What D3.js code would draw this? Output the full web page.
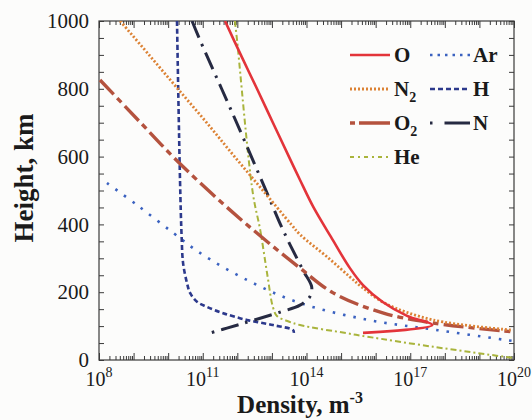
<!DOCTYPE html>
<html><head><meta charset="utf-8">
<script src="https://cdn.jsdelivr.net/npm/d3@7"></script>
<style>
html,body{margin:0;padding:0;background:#fcfcfb;}
svg{display:block;font-family:"Liberation Serif","Times New Roman",serif;}
</style>
</head><body>
<svg id="chart" width="532" height="420"></svg>
<script>
// ---- data (height in km, density in m^-3) ----
const hO   = [1000, 900, 800, 700, 600, 531, 450, 363, 271, 221, 171, 130, 103, 80];
const nO   = [4.4e11, 1.26e12, 3.7e12, 1.07e13, 3.1e13, 6.5e13, 1.6e14, 5.1e14, 1.8e15, 4.3e15, 1.6e16, 8.1e16, 4.3e17, 4.3e15];

const hN2  = [1000, 900, 800, 700, 600, 500, 400, 370, 300, 245, 215, 168, 118, 88];
const nN2  = [4.1e8, 2.8e9, 1.9e10, 1.3e11, 8.3e11, 5.5e12, 3.6e13, 6.5e13, 4.4e14, 1.8e15, 4.0e15, 1.8e16, 4.6e17, 9.3e19];

const hO2  = [826, 700, 599, 496, 392, 271, 198, 139, 109, 83];
const nO2  = [1.07e8, 1.6e9, 1.4e10, 1.6e11, 2.3e12, 6.5e13, 5.9e14, 1.6e16, 4.6e17, 9.3e19];

const hHe  = [1000, 944, 493, 383, 250, 156, 130, 115, 103, 79, 69, 39, 10, 6];
const nHe  = [8.5e11, 9.8e11, 2.8e12, 4.6e12, 7.4e12, 1.07e13, 1.4e13, 2.8e13, 6.5e13, 1.45e15, 5.6e15, 4.6e17, 4.9e19, 9.3e19];

const hAr  = [522, 457, 375, 316, 236, 168, 118, 88, 56];
const nAr  = [1.7e8, 1.26e9, 1.4e10, 8.3e10, 1.9e12, 6.5e13, 6.3e15, 6.3e17, 9.3e19];

const hH   = [1000, 531, 364, 286, 227, 198, 172, 157, 138, 118, 103, 88, 80];
const nH   = [1.8e10, 2.2e10, 2.45e10, 2.7e10, 3.5e10, 4.3e10, 6.8e10, 1.3e11, 3.9e11, 1.9e12, 1.07e13, 4.1e13, 4.3e13];

const hN   = [1000, 944, 723, 493, 383, 265, 216, 187, 162, 141, 94, 81];
const nN   = [4.9e10, 8.3e10, 7.6e11, 7.2e12, 2.1e13, 7.9e13, 1.41e14, 1.26e14, 6.5e13, 1.7e13, 5.0e11, 1.8e11];

const speciesNames = ["O", "N2", "O2", "He", "Ar", "H", "N"];
const xTickExponents = [8, 11, 14, 17, 20];
const yTickLabels = [0, 200, 400, 600, 800, 1000];
const xTitle = "Density, m";
const xTitleSup = "-3";
const yTitle = "Height, km";

// ---- build table ----
const seriesData = {
  O:  d3.zip(nO, hO),  N2: d3.zip(nN2, hN2), O2: d3.zip(nO2, hO2),
  He: d3.zip(nHe, hHe), Ar: d3.zip(nAr, hAr), H: d3.zip(nH, hH), N: d3.zip(nN, hN)
};

const styles = {
  O:  {color:"#e3343a", width:2.6, dash:null,           ldash:null},
  N2: {color:"#dc8234", width:2.8, dash:"2,2",          ldash:"2,2"},
  O2: {color:"#b4523e", width:3.4, dash:"20,5,6,5",     ldash:"5,4,40"},
  He: {color:"#a9b43c", width:2.0, dash:"6,3,2,3",      ldash:"4,4,2,4"},
  Ar: {color:"#3b62c0", width:2.6, dash:"2.5,8",        ldash:"2.5,5"},
  H:  {color:"#2c398c", width:2.6, dash:"5,3",          ldash:"5,3"},
  N:  {color:"#262a42", width:3.0, dash:"18,7,2.5,7",   ldash:"2.5,12,40"}
};
const legendLayout = {
  O:[0,0], N2:[0,1], O2:[0,2], He:[0,3], Ar:[1,0], H:[1,1], N:[1,2]
};

// ---- chart ----
const L = 99, R = 514, T = 21, B = 360;
const svg = d3.select("#chart");
const x = d3.scaleLog().domain([1e8, 1e20]).range([L, R]);
const y = d3.scaleLinear().domain([0, 1000]).range([B, T]);
const axisColor = "#3a3a3a";

svg.append("defs").append("clipPath").attr("id", "clip")
  .append("rect").attr("x", L).attr("y", T).attr("width", R - L).attr("height", B - T);

// ticks
const decades = d3.range(8, 21).map(e => Math.pow(10, e));
const minors = [];
for (let e = 8; e < 20; e++) for (let m = 2; m <= 9; m++) minors.push(m * Math.pow(10, e));

function styleAxis(g) {
  g.select(".domain").remove();
  g.selectAll("line").attr("stroke", axisColor).attr("stroke-width", 1);
}
svg.append("g").attr("transform", `translate(0,${B})`)
  .call(d3.axisBottom(x).tickValues(minors).tickSize(-4).tickFormat("")).call(styleAxis);
svg.append("g").attr("transform", `translate(0,${B})`)
  .call(d3.axisBottom(x).tickValues(decades).tickSize(-7).tickFormat("")).call(styleAxis);
svg.append("g").attr("transform", `translate(0,${T})`)
  .call(d3.axisTop(x).tickValues(minors).tickSize(-4).tickFormat("")).call(styleAxis);
svg.append("g").attr("transform", `translate(0,${T})`)
  .call(d3.axisTop(x).tickValues(decades).tickSize(-7).tickFormat("")).call(styleAxis);

const yMinor = d3.range(0, 1001, 50);
svg.append("g").attr("transform", `translate(${L},0)`)
  .call(d3.axisLeft(y).tickValues(yMinor).tickSize(-5).tickFormat("")).call(styleAxis);
svg.append("g").attr("transform", `translate(${R},0)`)
  .call(d3.axisRight(y).tickValues(yMinor).tickSize(-5).tickFormat("")).call(styleAxis);

// y tick labels via axis
const yLab = svg.append("g").attr("transform", `translate(${L},0)`)
  .call(d3.axisLeft(y).tickValues(yTickLabels).tickSize(0).tickPadding(10).tickFormat(d3.format("d")));
yLab.select(".domain").remove();
yLab.selectAll("text").attr("font-family", "Liberation Serif, Times New Roman, serif")
  .attr("font-size", 21).attr("fill", "#1a1a1a");

// x tick labels with superscripts
xTickExponents.forEach(e => {
  const t = svg.append("text").attr("x", x(Math.pow(10, e))).attr("y", 386)
    .attr("text-anchor", "middle").attr("font-size", 20).attr("fill", "#1a1a1a");
  t.append("tspan").text("10");
  t.append("tspan").attr("font-size", 14).attr("dy", -9).text(e);
});

// frame
svg.append("rect").attr("x", L).attr("y", T).attr("width", R - L).attr("height", B - T)
  .attr("fill", "none").attr("stroke", axisColor).attr("stroke-width", 1.2);

// titles
const xt = svg.append("text").attr("x", 300).attr("y", 413).attr("text-anchor", "middle")
  .attr("font-size", 25).attr("font-weight", "bold").attr("fill", "#1a1a1a");
xt.append("tspan").text(xTitle);
xt.append("tspan").attr("font-size", 16).attr("dy", -10).text(xTitleSup);

svg.append("text").attr("transform", "translate(33,178) rotate(-90)").attr("text-anchor", "middle")
  .attr("font-size", 27).attr("font-weight", "bold").attr("fill", "#1a1a1a").text(yTitle);

// curves
const line = d3.line().x(d => x(d[0])).y(d => y(d[1])).curve(d3.curveCatmullRom.alpha(0.5));
const plot = svg.append("g").attr("clip-path", "url(#clip)");
["He", "Ar", "H", "N", "O2", "N2", "O"].forEach(k => {
  const s = styles[k];
  plot.append("path").datum(seriesData[k]).attr("d", line)
    .attr("fill", "none").attr("stroke", s.color).attr("stroke-width", s.width)
    .attr("stroke-dasharray", s.dash);
});

// legend
const colX = [[350, 390, 394], [430, 470, 473]];
const rowY = [55, 89, 123, 157];
speciesNames.forEach(k => {
  const [c, r] = legendLayout[k];
  const s = styles[k];
  const yy = rowY[r];
  svg.append("line").attr("x1", colX[c][0]).attr("x2", colX[c][1]).attr("y1", yy).attr("y2", yy)
    .attr("stroke", s.color).attr("stroke-width", s.width).attr("stroke-dasharray", s.ldash);
  const t = svg.append("text").attr("x", colX[c][2]).attr("y", yy + 7)
    .attr("font-size", 21).attr("font-weight", "bold").attr("fill", "#1a1a1a");
  const m = k.match(/^([A-Za-z]+)(\d*)$/);
  t.append("tspan").text(m[1]);
  if (m[2]) t.append("tspan").attr("font-size", 14).attr("dy", 6).text(m[2]);
});
</script>
</body></html>
